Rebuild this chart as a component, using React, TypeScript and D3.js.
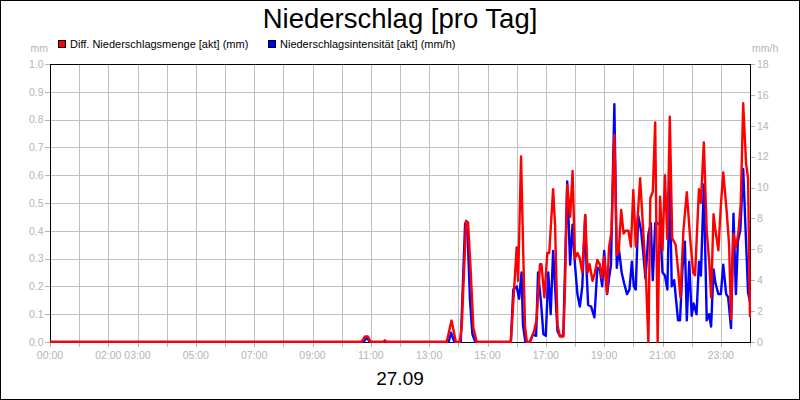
import React from 'react';
import * as d3 from 'd3';

// ---- data ----
const rainTimes = ["00:00","10:41","10:48","10:54","11:00","11:25","11:29","11:33","13:36","13:46","13:55","14:03","14:07","14:16","14:20","14:25","14:31","14:38","15:48","16:00","16:03","16:09","16:17","16:21","16:27","16:36","16:41","16:48","16:51","16:57","17:03","17:07","17:15","17:19","17:24","17:29","17:36","17:39","17:44","17:50","17:55","18:00","18:05","18:10","18:15","18:21","18:26","18:30","18:36","18:41","18:46","18:51","18:55","19:00","19:06","19:10","19:15","19:21","19:26","19:30","19:35","19:40","19:44","19:50","19:55","20:00","20:05","20:14","20:20","20:26","20:31","20:35","20:40","20:45","20:50","20:55","21:00","21:05","21:10","21:15","21:20","21:27","21:32","21:37","21:43","21:50","21:57","22:03","22:07","22:15","22:19","22:25","22:31","22:36","22:40","22:45","22:49","22:55","23:00","23:05","23:12","23:17","23:21","23:26","23:31","23:36","23:41","23:46","23:52","23:56","24:00"];
const rainValues = [0,0,0.02,0.02,0,0,0.006,0,0,0.077,0,0,0.055,0.436,0.43,0.27,0.05,0,0,0.34,0.22,0.667,0.06,0,0,0.04,0.08,0.28,0.28,0.16,0.32,0.32,0.55,0.42,0.06,0.02,0.02,0.17,0.565,0.45,0.615,0.30,0.32,0.30,0.25,0.457,0.25,0.28,0.22,0.25,0.295,0.28,0.23,0.307,0.175,0.34,0.397,0.745,0.313,0.325,0.475,0.39,0.40,0.40,0.343,0.547,0.343,0.589,0.409,0.23,0,0.517,0.54,0.79,0,0.523,0.33,0.60,0.37,0.81,0.373,0.35,0.26,0.16,0.40,0.539,0.37,0.25,0.24,0.55,0.50,0.718,0.40,0.29,0.16,0.46,0.40,0.33,0.49,0.61,0.47,0.35,0.083,0.39,0.34,0.39,0.50,0.859,0.64,0.59,0.09];

const intensityTimes = ["00:00","10:45","10:52","10:58","13:40","13:45","13:52","14:05","14:14","14:19","14:24","14:29","14:35","15:48","15:53","16:00","16:05","16:10","16:13","16:18","16:27","16:34","16:40","16:44","16:50","16:55","17:00","17:05","17:10","17:15","17:24","17:29","17:36","17:44","17:50","17:55","18:00","18:05","18:10","18:15","18:21","18:24","18:27","18:33","18:40","18:46","18:51","18:56","19:00","19:06","19:10","19:14","19:21","19:26","19:30","19:36","19:41","19:47","19:52","19:57","20:01","20:05","20:10","20:16","20:20","20:25","20:31","20:36","20:40","20:45","20:49","20:55","21:00","21:05","21:10","21:15","21:19","21:24","21:32","21:36","21:41","21:46","21:50","21:55","22:00","22:04","22:10","22:15","22:19","22:25","22:31","22:36","22:40","22:45","22:49","22:55","23:00","23:05","23:11","23:15","23:21","23:26","23:31","23:35","23:40","23:46","23:51","23:56","24:00"];
const intensityValues = [0,0,0.3,0,0,0.6,0,0,7.7,7.0,2.7,0.5,0,0,3.4,3.6,2.8,4.5,1.1,0,0,0.5,0.4,4.5,2.6,0.5,0.4,4.5,1.8,5.9,0.7,0.4,0.4,10.4,5.0,7.6,5.0,3.1,2.3,3.6,8.2,4.5,2.4,2.3,1.6,4.8,4.7,3.6,5.9,3.1,4.1,5.0,15.4,4.8,6.1,4.5,3.8,3.1,3.4,5.2,3.6,3.4,8.2,7.2,5.9,4.1,7.0,7.7,4.0,7.7,7.7,7.6,4.5,4.3,3.4,10.4,3.6,4.0,1.4,1.4,4.7,6.5,1.4,5.2,1.7,2.5,1.8,5.2,4.3,10.2,1.4,1.8,1.0,4.7,3.8,3.1,3.1,5.0,3.1,2.9,0.9,8.3,3.1,6.5,7.2,11.2,7.2,3.2,2.6];

const xTickLabels = ["00:00","02:00","03:00","05:00","07:00","09:00","11:00","13:00","15:00","17:00","19:00","21:00","23:00"];
const leftTicks = [0,0.1,0.2,0.3,0.4,0.5,0.6,0.7,0.8,0.9,1.0];
const rightTicks = [0,2,4,6,8,10,12,14,16,18];

const title = "Niederschlag [pro Tag]";
const dateLabel = "27.09";
const legendRain = "Diff. Niederschlagsmenge [akt] (mm)";
const legendIntensity = "Niederschlagsintensität [akt] (mm/h)";

const W = 800, H = 400;
const PL = 50, PR = 750, PT = 64, PB = 342;
const FONT = "'Liberation Sans', Arial, sans-serif";
const GRID = '#c0c0c0';
const LABEL = '#b4b4b4';

const toMin = (s: string) => { const [h, m] = s.split(':').map(Number); return h * 60 + m; };

export default function App() {
  const x = d3.scaleLinear().domain([0, 1440]).range([PL, PR]);
  const yL = d3.scaleLinear().domain([0, 1]).range([PB, PT]);
  const yR = d3.scaleLinear().domain([0, 18]).range([PB, PT]);

  const rain = rainTimes.map((t, i) => [toMin(t), rainValues[i]] as [number, number]);
  const inten = intensityTimes.map((t, i) => [toMin(t), intensityValues[i]] as [number, number]);

  const lineL = d3.line<[number, number]>().x(d => x(d[0])).y(d => yL(d[1]));
  const lineR = d3.line<[number, number]>().x(d => x(d[0])).y(d => yR(d[1]));

  const hours = d3.range(0, 25);

  return (
    <svg width={W} height={H} style={{ position: 'absolute', left: 0, top: 0, background: '#fff' }} fontFamily={FONT}>
      <rect x={0} y={0} width={W} height={H} fill="#fff" />
      <rect x={0.5} y={0.5} width={W - 1} height={H - 1} fill="none" stroke="#000" strokeWidth={1} />

      <text x={400} y={28} textAnchor="middle" fontSize={27.5} fill="#000">{title}</text>

      {/* legend */}
      <rect x={58.5} y={40.5} width={7} height={7} fill="#ff0000" stroke="#000" strokeWidth={1} />
      <text x={70} y={48} fontSize={11} fill="#000">{legendRain}</text>
      <rect x={268.5} y={40.5} width={7} height={7} fill="#0000ff" stroke="#000" strokeWidth={1} />
      <text x={280} y={48} fontSize={11} fill="#000">{legendIntensity}</text>

      <text x={48} y={52} textAnchor="end" fontSize={10.5} fill={LABEL}>mm</text>
      <text x={752} y={52} textAnchor="start" fontSize={10.5} fill={LABEL}>mm/h</text>

      {/* grid */}
      {hours.slice(1, 24).map(h => (
        <line key={'vg' + h} x1={Math.round(x(h * 60)) + 0.5} x2={Math.round(x(h * 60)) + 0.5} y1={PT} y2={PB} stroke={GRID} strokeWidth={1} />
      ))}
      {leftTicks.slice(1, 10).map(v => (
        <line key={'hg' + v} x1={PL} x2={PR} y1={Math.round(yL(v)) + 0.5} y2={Math.round(yL(v)) + 0.5} stroke={GRID} strokeWidth={1} />
      ))}

      {/* left axis */}
      {leftTicks.map(v => (
        <g key={'lt' + v}>
          <line x1={45} x2={PL} y1={Math.round(yL(v)) + 0.5} y2={Math.round(yL(v)) + 0.5} stroke={LABEL} />
          <text x={43.5} y={yL(v) + 3.8} textAnchor="end" fontSize={10.5} fill={LABEL}>{v.toFixed(1)}</text>
        </g>
      ))}
      {/* right axis */}
      {rightTicks.map(v => (
        <g key={'rt' + v}>
          <line x1={PR} x2={PR + 5} y1={Math.round(yR(v)) + 0.5} y2={Math.round(yR(v)) + 0.5} stroke={LABEL} />
          <text x={757} y={yR(v) + 3.8} textAnchor="start" fontSize={10.5} fill={LABEL}>{v}</text>
        </g>
      ))}
      {/* bottom ticks */}
      {hours.map(h => (
        <line key={'bt' + h} x1={Math.round(x(h * 60)) + 0.5} x2={Math.round(x(h * 60)) + 0.5} y1={PB} y2={PB + 5} stroke={LABEL} />
      ))}
      {xTickLabels.map(l => (
        <text key={'xl' + l} x={x(toMin(l))} y={358.5} textAnchor="middle" fontSize={10.5} fill={LABEL}>{l}</text>
      ))}

      <text x={400} y={384.5} textAnchor="middle" fontSize={19} fill="#000">{dateLabel}</text>

      {/* frame */}
      <rect x={PL + 0.5} y={PT + 0.5} width={PR - PL} height={PB - PT} fill="none" stroke="#000" strokeWidth={1} />

      <clipPath id="plotClip">
        <rect x={PL} y={PT - 2} width={PR - PL + 1} height={PB - PT + 3} />
      </clipPath>
      <g clipPath="url(#plotClip)">
        <path d={lineR(inten) || ''} fill="none" stroke="#0000ff" strokeWidth={2.4} strokeLinejoin="round" />
        <path d={lineL(rain) || ''} fill="none" stroke="#ff0000" strokeWidth={2.4} strokeLinejoin="round" />
      </g>
    </svg>
  );
}
